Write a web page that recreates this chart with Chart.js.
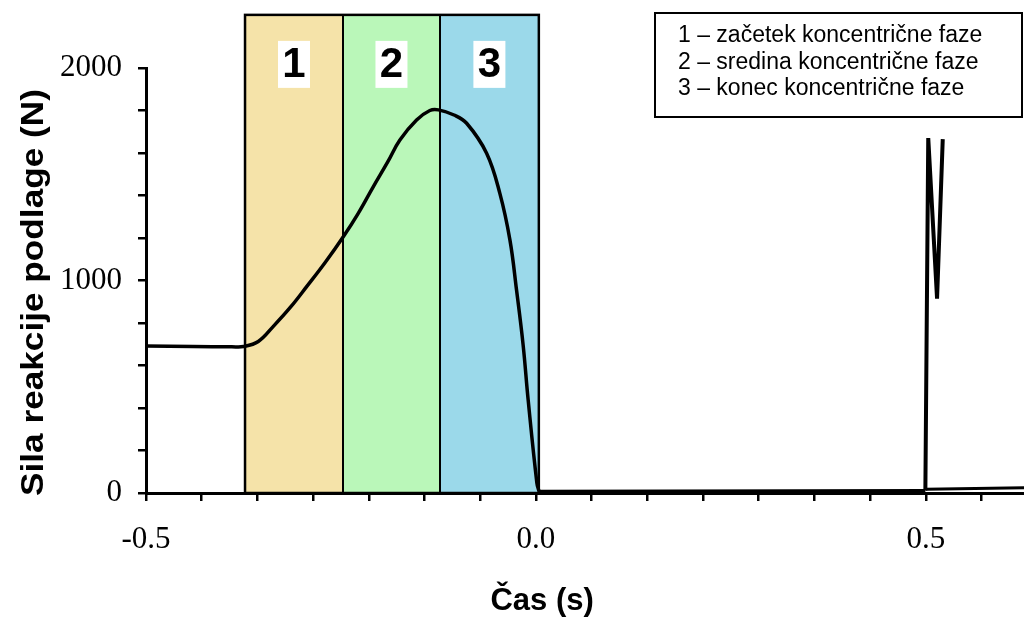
<!DOCTYPE html>
<html>
<head>
<meta charset="utf-8">
<script src="https://cdn.jsdelivr.net/npm/chart.js@4/dist/chart.umd.min.js"></script>
<style>
  html, body { margin: 0; padding: 0; background: #fff; }
  #wrap { width: 1024px; height: 619px; }
</style>
</head>
<body>
<div id="wrap"><canvas id="c" width="1024" height="619"></canvas></div>
<script>
// Ground reaction force of a countermovement jump (time in s, force in N)
const timeMain  = [-0.5, -0.44, -0.39, -0.375, -0.356, -0.337, -0.315, -0.294, -0.27, -0.247, -0.228, -0.2086, -0.19, -0.1744, -0.153, -0.136, -0.125, -0.105, -0.0888, -0.0632, -0.0462, -0.0333, -0.0248, -0.0163, -0.0099, 0.0013, 0.004];
const forceMain = [692, 689, 688, 689, 713, 783, 873, 971, 1086, 1206, 1315, 1441, 1558, 1661, 1755, 1800, 1803, 1779, 1740, 1599, 1410, 1191, 955, 695, 438, 47, 8];

// flight phase
const timeFlight  = [0.004, 0.4995];
const forceFlight = [8, 12];

// landing impact
const timeLanding  = [0.4995, 0.5032, 0.5145, 0.5218];
const forceLanding = [12, 1670, 915, 1665];

// ground contact after landing
const timeAfter  = [0.5, 0.626];
const forceAfter = [18, 25];

// concentric phase boundaries (s) and their labels
const phaseEdges  = [-0.373, -0.2474, -0.123, 0.0038];
const phaseTop    = 2250;
const phaseLabels = ['1', '2', '3'];
const phaseColors = ['#F5E3A9', '#BAF7B9', '#9BD9EA'];

const legendLines = [
  '1 – začetek koncentrične faze',
  '2 – sredina koncentrične faze',
  '3 – konec koncentrične faze'
];

const xTickValues = [-0.5, -0.4286, -0.3571, -0.2857, -0.2143, -0.1429, -0.0714, 0, 0.0714, 0.1429, 0.2143, 0.2857, 0.3571, 0.4286, 0.5, 0.5714];
const xLabelValues = [-0.5, 0, 0.5];
const yLabelValues = [0, 1000, 2000];

const xTitle = 'Čas (s)';
const yTitle = 'Sila reakcije podlage (N)';

const toPoints = (xs, ys) => xs.map((x, i) => ({ x, y: ys[i] }));

// shaded phase bands with numbered tags
const phasePlugin = {
  id: 'phases',
  beforeDraw(chart) {
    const { ctx, scales: { x, y } } = chart;
    const top = y.getPixelForValue(phaseTop);
    const bottom = y.getPixelForValue(0);
    ctx.save();
    for (let i = 0; i < phaseColors.length; i++) {
      const l = x.getPixelForValue(phaseEdges[i]);
      const r = x.getPixelForValue(phaseEdges[i + 1]);
      ctx.fillStyle = phaseColors[i];
      ctx.fillRect(l, top, r - l, bottom - top);
    }
    ctx.strokeStyle = '#000';
    ctx.lineWidth = 2;
    for (let i = 1; i < phaseEdges.length - 1; i++) {
      const px = Math.round(x.getPixelForValue(phaseEdges[i]));
      ctx.beginPath();
      ctx.moveTo(px, top);
      ctx.lineTo(px, bottom);
      ctx.stroke();
    }
    const l0 = x.getPixelForValue(phaseEdges[0]);
    const r0 = x.getPixelForValue(phaseEdges[phaseEdges.length - 1]);
    ctx.lineWidth = 2.5;
    ctx.strokeRect(l0, top, r0 - l0, bottom - top);

    ctx.font = 'bold 42px "Liberation Sans", Arial, sans-serif';
    ctx.textAlign = 'center';
    ctx.textBaseline = 'middle';
    for (let i = 0; i < phaseLabels.length; i++) {
      const cx = (x.getPixelForValue(phaseEdges[i]) + x.getPixelForValue(phaseEdges[i + 1])) / 2;
      const by = top + 26;
      ctx.fillStyle = '#fff';
      ctx.fillRect(cx - 16, by, 32, 47);
      ctx.fillStyle = '#000';
      ctx.fillText(phaseLabels[i], cx, by + 25);
    }
    ctx.restore();
  }
};

// legend box and axis titles
const annotationPlugin = {
  id: 'annotations',
  afterDraw(chart) {
    const { ctx, scales: { x, y }, chartArea } = chart;
    ctx.save();
    // legend box in the upper right corner
    const bx = chartArea.right - 369, by = 13, bw = 367, bh = 104;
    ctx.fillStyle = '#fff';
    ctx.fillRect(bx, by, bw, bh);
    ctx.strokeStyle = '#000';
    ctx.lineWidth = 2;
    ctx.strokeRect(bx, by, bw, bh);
    ctx.fillStyle = '#000';
    ctx.font = '23px "Liberation Sans", Arial, sans-serif';
    ctx.textAlign = 'left';
    ctx.textBaseline = 'middle';
    legendLines.forEach((t, i) => ctx.fillText(t, bx + 23, by + 23 + i * 26.5));

    // x axis title
    ctx.font = 'bold 31px "Liberation Sans", Arial, sans-serif';
    ctx.textAlign = 'center';
    ctx.textBaseline = 'alphabetic';
    ctx.fillText(xTitle, x.getPixelForValue(0.008), chart.height - 9);

    // y axis title
    ctx.translate(43, (y.getPixelForValue(0) + y.getPixelForValue(2000)) / 2 + 12);
    ctx.rotate(-Math.PI / 2);
    ctx.scale(1.1, 1);
    ctx.font = 'bold 32px "Liberation Sans", Arial, sans-serif';
    ctx.fillText(yTitle, 0, 0);
    ctx.restore();
  }
};

const tickFont = { family: '"Liberation Serif", "Times New Roman", serif', size: 31 };

const lineStyle = { borderColor: '#000', pointRadius: 0 };

new Chart(document.getElementById('c'), {
  type: 'line',
  data: {
    datasets: [
      { ...lineStyle, data: toPoints(timeMain, forceMain), borderWidth: 3.5, tension: 0.4 },
      { ...lineStyle, data: toPoints(timeFlight, forceFlight), borderWidth: 3, tension: 0 },
      { ...lineStyle, data: toPoints(timeLanding, forceLanding), borderWidth: 4, tension: 0 },
      { ...lineStyle, data: toPoints(timeAfter, forceAfter), borderWidth: 3, tension: 0 }
    ]
  },
  options: {
    responsive: false,
    animation: false,
    layout: { padding: { top: 68, left: 0, right: 0, bottom: 0 } },
    plugins: { legend: { display: false }, tooltip: { enabled: false } },
    scales: {
      x: {
        type: 'linear',
        min: -0.5,
        max: 0.626,
        afterFit(s) { s.height = 126; },
        afterBuildTicks(s) { s.ticks = xTickValues.map(v => ({ value: v })); },
        border: { color: '#000', width: 3 },
        grid: { drawOnChartArea: false, drawTicks: true, tickLength: 8, tickWidth: 2.5, lineWidth: 2.5, tickColor: '#000' },
        ticks: {
          autoSkip: false,
          maxRotation: 0,
          minRotation: 0,
          padding: 20,
          color: '#000',
          font: tickFont,
          callback: v => xLabelValues.some(l => Math.abs(l - v) < 1e-6) ? v.toFixed(1) : ''
        }
      },
      y: {
        min: 0,
        max: 2000,
        afterFit(s) { s.width = 146; },
        border: { color: '#000', width: 3 },
        grid: { drawOnChartArea: false, drawTicks: true, tickLength: 8, tickWidth: 2.5, lineWidth: 2.5, tickColor: '#000' },
        ticks: {
          stepSize: 200,
          padding: 16,
          color: '#000',
          font: tickFont,
          callback: v => yLabelValues.includes(v) ? String(v) : ''
        }
      }
    }
  },
  plugins: [phasePlugin, annotationPlugin]
});
</script>
</body>
</html>
